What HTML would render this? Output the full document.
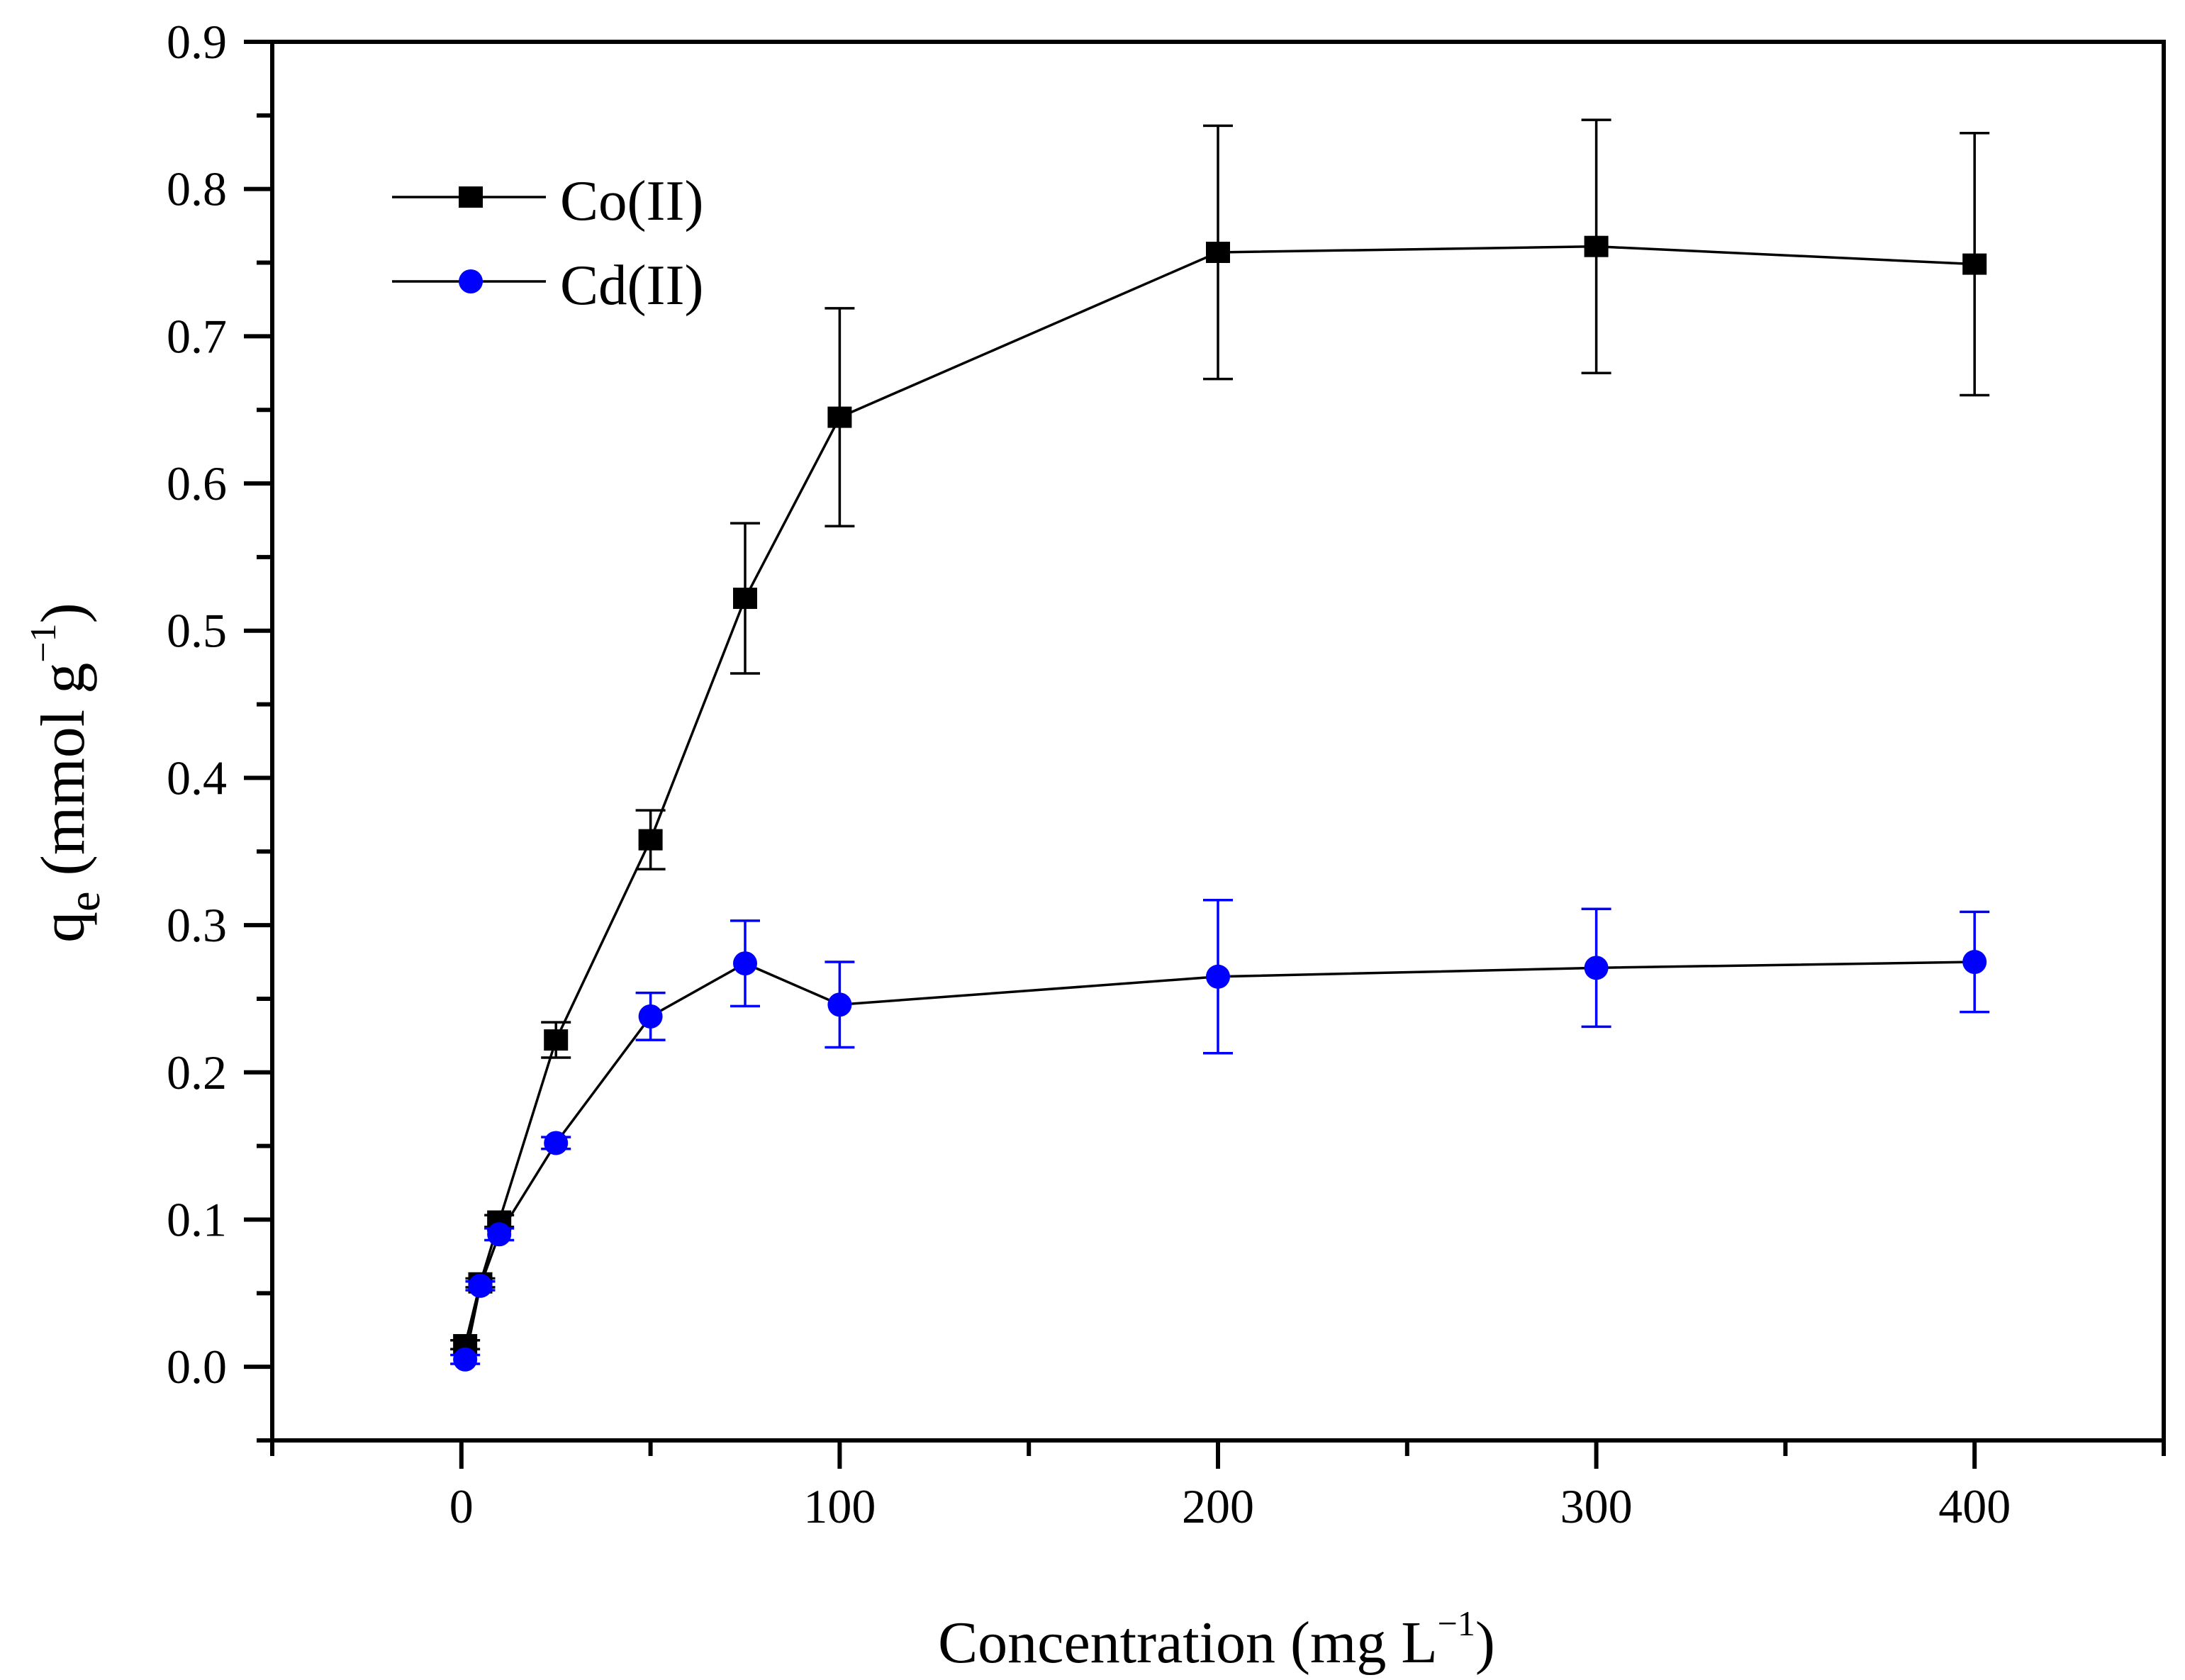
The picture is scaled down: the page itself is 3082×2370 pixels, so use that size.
<!DOCTYPE html>
<html><head><meta charset="utf-8"><style>
html,body{margin:0;padding:0;background:#fff;}
svg{display:block;font-family:"Liberation Serif",serif;}
</style></head><body>
<svg id="chart" width="3082" height="2370" viewBox="0 0 3082 2370" xmlns="http://www.w3.org/2000/svg">
<g id="axes"></g>
<g id="series"></g>
<g id="legend">
  <line x1="553" y1="278" x2="770" y2="278" stroke="#000" stroke-width="3.5"/>
  <rect x="647" y="263" width="34" height="30" fill="#000"/>
  <text x="790" y="310" font-size="81">Co(II)</text>
  <line x1="553" y1="397" x2="770" y2="397" stroke="#000" stroke-width="3.5"/>
  <circle cx="664" cy="397" r="17" fill="#0000ff"/>
  <text x="790" y="429" font-size="81">Cd(II)</text>
</g>
<text x="1716" y="2345" font-size="84" text-anchor="middle">Concentration (mg L<tspan dy="-38" font-size="50">−1</tspan><tspan dy="38">)</tspan></text>
<text transform="translate(118,1090) rotate(-90)" font-size="88" text-anchor="middle">q<tspan dy="22" font-size="64">e</tspan><tspan dy="-22"> (mmol g</tspan><tspan dy="-40" font-size="52">−1</tspan><tspan dy="40">)</tspan></text>
</svg>
<script>
const xValues = [1, 5, 10, 25, 50, 75, 100, 200, 300, 400];
const coValues = [0.015, 0.057, 0.099, 0.222, 0.358, 0.522, 0.645, 0.757, 0.761, 0.749];
const coErrors = [0.003, 0.003, 0.004, 0.012, 0.020, 0.051, 0.074, 0.086, 0.086, 0.089];
const cdValues = [0.005, 0.055, 0.090, 0.152, 0.238, 0.274, 0.246, 0.265, 0.271, 0.275];
const cdErrors = [0.003, 0.003, 0.004, 0.004, 0.016, 0.029, 0.029, 0.052, 0.040, 0.034];
const xTickLabels = ["0", "100", "200", "300", "400"];
const yTickLabels = ["0.0","0.1","0.2","0.3","0.4","0.5","0.6","0.7","0.8","0.9"];

const NS = "http://www.w3.org/2000/svg";
const L = 384, R = 3052, T = 59, B = 2032;
const xMin = -50, xMax = 450, yMin = -0.05, yMax = 0.9;
function xs(v){ return L + (v - xMin) / (xMax - xMin) * (R - L); }
function ys(v){ return B - (v - yMin) / (yMax - yMin) * (B - T); }
function mk(tag, attrs, parent){
  const e = document.createElementNS(NS, tag);
  for (const k in attrs) e.setAttribute(k, attrs[k]);
  parent.appendChild(e); return e;
}
const axes = document.getElementById('axes');
const frame = mk('rect', {x:L, y:T, width:R-L, height:B-T, fill:'none', stroke:'#000', 'stroke-width':6}, axes);


for (let v = -50; v <= 450; v += 50) {
  const major = v % 100 === 0 && v >= 0 && v <= 400;
  const t = mk('line', {x1:xs(v), x2:xs(v), y1:B, y2:B + (major ? 40 : 22), stroke:'#000', 'stroke-width':6}, axes);
  
  
}
xTickLabels.forEach(s => {
  const t = mk('text', {x:xs(+s), y:2148, 'font-size':68, 'text-anchor':'middle'}, axes);
  t.textContent = s;
  
  
});
for (let i = -1; i <= 18; i++) {
  const v = i * 0.05;
  const major = i >= 0 && i % 2 === 0;
  const t = mk('line', {x1:L - (major ? 40 : 22), x2:L, y1:ys(v), y2:ys(v), stroke:'#000', 'stroke-width':6}, axes);
  
  
}
yTickLabels.forEach(s => {
  const t = mk('text', {x:320, y:ys(+s) + 23, 'font-size':68, 'text-anchor':'end'}, axes);
  t.textContent = s;
  
  
});
const series = document.getElementById('series');
function drawSeries(vals, errs, color, shape, name){
  const g = mk('g', {}, series);
  
  
  const pts = xValues.map((x, i) => xs(x) + ',' + ys(vals[i])).join(' ');
  const line = mk('polyline', {points:pts, fill:'none', stroke:'#000', 'stroke-width':3.5}, g);
  
  
  xValues.forEach((x, i) => {
    const cx = xs(x), y1 = ys(vals[i] + errs[i]), y2 = ys(vals[i] - errs[i]);
    const eb = mk('path', {d:`M${cx},${y1}V${y2}M${cx-21},${y1}H${cx+21}M${cx-21},${y2}H${cx+21}`, stroke:color, 'stroke-width':3.5, fill:'none'}, g);
    
    
  });
  xValues.forEach((x, i) => {
    let m;
    if (shape === 'square') m = mk('rect', {x:xs(x)-17, y:ys(vals[i])-15, width:34, height:30, fill:color}, g);
    else m = mk('circle', {cx:xs(x), cy:ys(vals[i]), r:17, fill:color}, g);
    
    
  });
  xValues.forEach((x, i) => {
    const cx = xs(x);
    const s = mk('line', {x1:cx, x2:cx, y1:ys(vals[i] + errs[i]), y2:ys(vals[i] - errs[i]), stroke: shape === 'square' ? '#000' : color, 'stroke-width':3}, g);
    
    
  });
}
drawSeries(coValues, coErrors, '#000000', 'square', 'co');
drawSeries(cdValues, cdErrors, '#0000ff', 'circle', 'cd');
</script>
</body></html>
